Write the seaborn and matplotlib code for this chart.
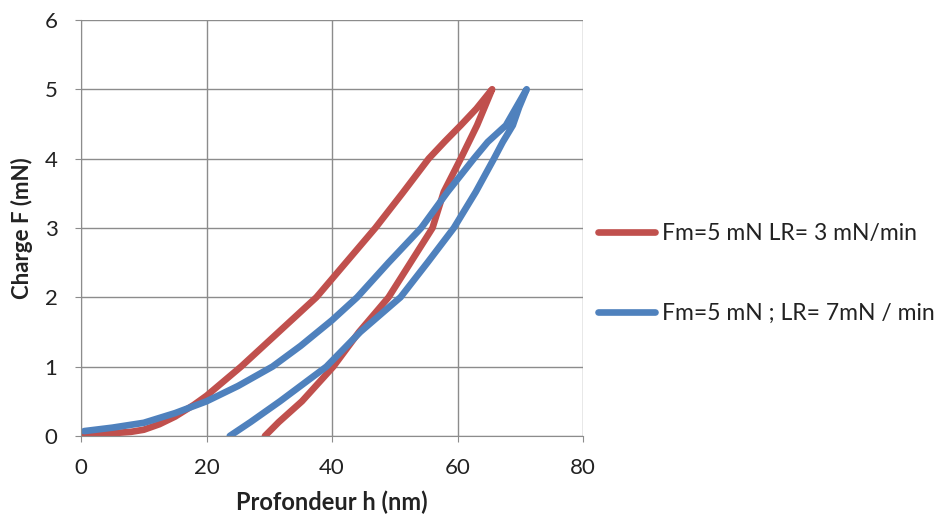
import numpy as np
import pandas as pd
import seaborn as sns
import matplotlib.pyplot as plt

# loading + unloading curves
red_label = "Fm=5 mN LR= 3 mN/min"
red_h = [0, 5, 8, 10, 12.5, 15, 18, 20, 25.5, 31.5, 37.5, 42.2, 46.9, 51.2, 55.4, 58, 60.5, 63, 65.5,
         64.3, 63.1, 60.5, 57.8, 56, 52.5, 49, 44.3, 40.2, 35.2, 31.5, 29.3]
red_F = [0.02, 0.04, 0.06, 0.09, 0.17, 0.28, 0.45, 0.58, 1.0, 1.5, 2.0, 2.5, 3.0, 3.5, 4.0, 4.25, 4.48, 4.72, 5.0,
         4.74, 4.48, 4.0, 3.52, 3.0, 2.5, 2.0, 1.5, 1.0, 0.5, 0.2, 0.0]

blue_label = "Fm=5 mN ; LR= 7mN / min"
blue_h = [0.5, 5, 10, 15, 20, 25, 30.5, 35, 40, 44, 49, 54.2, 58.4, 62.6, 64.8, 67.7, 71,
          69.8, 68.8, 67.2, 65.8, 62.9, 59.4, 55.2, 50.9, 44.5, 39.1, 31.7, 27, 23.7]
blue_F = [0.07, 0.12, 0.19, 0.33, 0.5, 0.72, 1.0, 1.3, 1.67, 2.0, 2.5, 3.0, 3.52, 4.0, 4.24, 4.48, 5.0,
          4.74, 4.48, 4.24, 4.0, 3.52, 3.0, 2.5, 2.0, 1.5, 1.0, 0.5, 0.2, 0.0]

x_ticks = [0, 20, 40, 60, 80]
y_ticks = [0, 1, 2, 3, 4, 5, 6]

df = pd.DataFrame({
    "h": red_h + blue_h,
    "F": red_F + blue_F,
    "serie": [red_label] * len(red_h) + [blue_label] * len(blue_h),
})

sns.set_style("white")
plt.rcParams['font.family'] = ['Lato', 'DejaVu Sans']

fig = plt.figure(figsize=(9.39, 5.24), dpi=100)
ax = fig.add_axes([0.0863, 0.168, 0.5347, 0.794])

palette = {red_label: "#C0504D", blue_label: "#4F81BD"}
sns.lineplot(data=df, x="h", y="F", hue="serie", palette=palette, sort=False,
             estimator=None, units="serie", linewidth=4.8, ax=ax, legend=False)

ax.set_xlim(0, 80)
ax.set_ylim(0, 6)
ax.set_xticks(x_ticks)
ax.set_yticks(y_ticks)
ax.grid(True, color="#8C8C8C", linewidth=1.0)
ax.set_axisbelow(True)
for s in ["top", "right"]:
    ax.spines[s].set_visible(False)
for s in ["left", "bottom"]:
    ax.spines[s].set_color("#8C8C8C")
ax.tick_params(axis="both", direction="out", length=4, color="#8C8C8C",
               labelsize=16, labelcolor="#222222", left=True, bottom=True)
ax.tick_params(axis="x", pad=12)
ax.tick_params(axis="y", pad=13)

ax.set_xlabel("Profondeur h (nm)", fontsize=17, fontweight="bold", color="#222222", labelpad=9)
ax.set_ylabel("Charge F (mN)", fontsize=16, fontweight="bold", color="#222222", labelpad=8)

handles = [plt.Line2D([], [], color=palette[red_label], linewidth=4.8),
           plt.Line2D([], [], color=palette[blue_label], linewidth=4.8)]
fig.legend(handles, [red_label, blue_label], loc="center left", bbox_to_anchor=(0.637, 0.478),
           frameon=False, fontsize=16.5, handlelength=2.5, handletextpad=0.3,
           labelspacing=2.6, borderpad=0, borderaxespad=0, labelcolor="#222222")

fig.savefig("out.png", dpi=100)
